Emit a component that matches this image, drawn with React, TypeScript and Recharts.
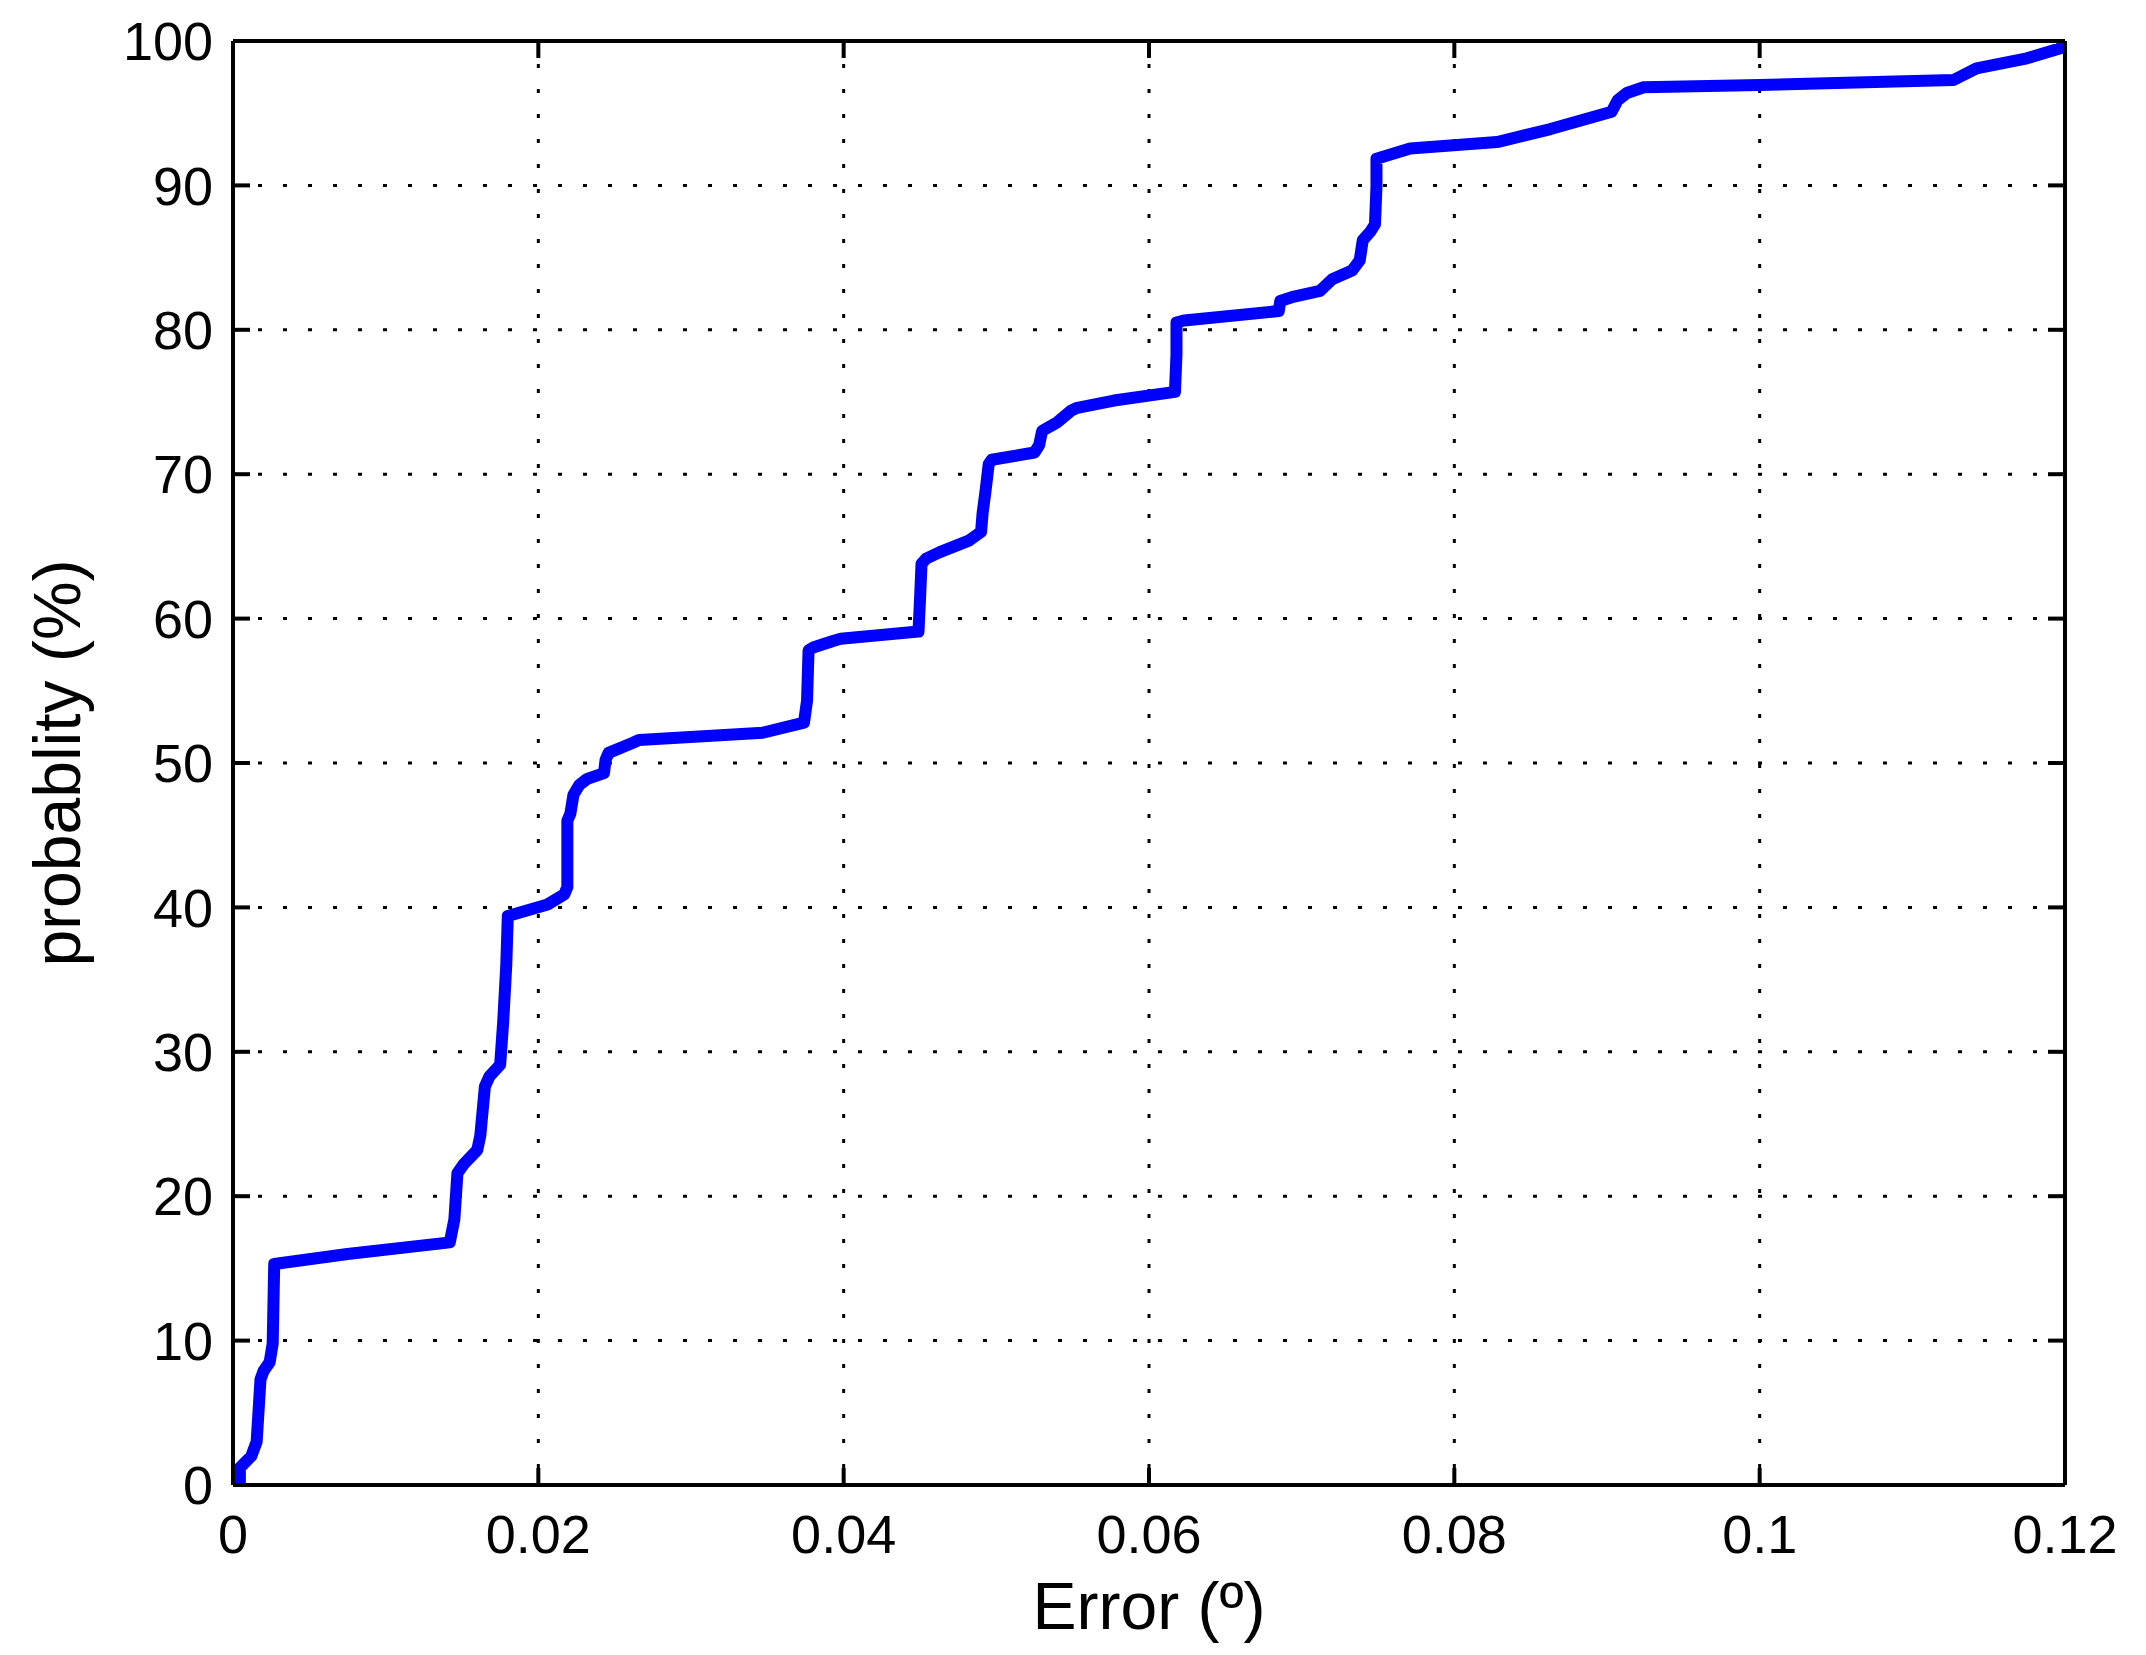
import { LineChart, Line, XAxis, YAxis, CartesianGrid } from "recharts";

// error in degrees vs cumulative probability (%)
const errorValues = [
  0.00045, 0.00045, 0.0012, 0.00155, 0.0018, 0.002, 0.0024, 0.0026, 0.0027, 0.0075,
  0.0142, 0.0145, 0.0147, 0.0151, 0.016, 0.0162, 0.0165, 0.0168, 0.0175, 0.0177,
  0.0179, 0.018, 0.0206, 0.0217, 0.0219, 0.0219, 0.0221, 0.0223, 0.0227, 0.0232,
  0.0243, 0.0244, 0.0246, 0.0262, 0.0266, 0.0347, 0.0374, 0.0376, 0.0377, 0.038,
  0.0393, 0.0398, 0.0449, 0.045, 0.0451, 0.0454, 0.0463, 0.0482, 0.049, 0.0491,
  0.0493, 0.0495, 0.0497, 0.0525, 0.0528, 0.053, 0.054, 0.0549, 0.0553, 0.0577,
  0.0617, 0.0618, 0.0618, 0.0623, 0.0685, 0.0686, 0.0695, 0.0712, 0.072, 0.0733,
  0.0738, 0.074, 0.0745, 0.0748, 0.0749, 0.0749, 0.0771, 0.0828, 0.0863, 0.0903,
  0.0907, 0.0913, 0.0924, 0.1, 0.1127, 0.1142, 0.1175, 0.1197, 0.12,
];

const probabilityValues = [
  0, 1.2, 2.0, 3.0, 7.3, 7.9, 8.5, 9.8, 15.3, 16.0,
  16.8, 18.4, 21.6, 22.2, 23.2, 24.2, 27.6, 28.3, 29.1, 32.1,
  36.0, 39.4, 40.2, 40.9, 41.4, 46.0, 46.5, 47.8, 48.5, 48.9,
  49.3, 50.2, 50.7, 51.4, 51.6, 52.1, 52.8, 54.3, 57.8, 58.0,
  58.45, 58.6, 59.1, 61.3, 63.8, 64.15, 64.6, 65.4, 66.0, 67.3,
  68.9, 70.7, 71.0, 71.5, 72.0, 73.0, 73.6, 74.4, 74.6, 75.1,
  75.7, 78.3, 80.5, 80.65, 81.3, 82.0, 82.3, 82.7, 83.5, 84.1,
  84.8, 86.2, 86.8, 87.3, 89.9, 91.85, 92.55, 93.0, 93.9, 95.1,
  95.9, 96.4, 96.8, 96.95, 97.3, 98.1, 98.8, 99.5, 100,
];

const xTicks = [0, 0.02, 0.04, 0.06, 0.08, 0.1, 0.12];
const yTicks = [0, 10, 20, 30, 40, 50, 60, 70, 80, 90, 100];

const data = errorValues.map((e, i) => ({ error: e, probability: probabilityValues[i] }));

const FONT = '"Liberation Sans", Arial, Helvetica, sans-serif';
const tickStyle = { fill: "#000", fontSize: 54, fontFamily: FONT };
const axisStroke = { stroke: "#000", strokeWidth: 4 };

const XLabel = ({ viewBox }: any) => (
  <text x={viewBox.x + viewBox.width / 2} y={viewBox.y + 144} textAnchor="middle"
    fontSize={66} fontFamily={FONT} fill="#000">
    Error (º)
  </text>
);

const YLabel = ({ viewBox }: any) => {
  const cx = viewBox.x + 72;
  const cy = viewBox.y + viewBox.height / 2;
  return (
    <text x={cx} y={cy} transform={`rotate(-90, ${cx}, ${cy})`} textAnchor="middle"
      fontSize={66} fontFamily={FONT} fill="#000">
      probablity (%)
    </text>
  );
};

export default function App() {
  return (
    <div style={{ width: 2130, height: 1640, background: "#fff" }}>
      <LineChart width={2130} height={1640} data={data} margin={{ top: 3, right: 43, bottom: 0, left: 0 }}>
        <CartesianGrid horizontal vertical={false} stroke="#000" strokeWidth={3} strokeDasharray="4 21" />
        <CartesianGrid horizontal={false} vertical stroke="#000" strokeWidth={3} strokeDasharray="4 21" strokeDashoffset={2} />
        <XAxis dataKey="error" type="number" domain={[0, 0.12]} ticks={xTicks} allowDataOverflow
          height={163} tick={tickStyle} tickFormatter={(v) => String(v)}
          axisLine={axisStroke} tickLine={axisStroke} tickSize={-17} tickMargin={47}
          label={<XLabel />} />
        <XAxis xAxisId="top" orientation="top" dataKey="error" type="number" domain={[0, 0.12]} ticks={xTicks}
          allowDataOverflow height={30} tickFormatter={() => ""} axisLine={axisStroke} tickLine={axisStroke}
          tickSize={-17} />
        <YAxis type="number" domain={[0, 100]} ticks={yTicks} allowDataOverflow width={225}
          tick={tickStyle} axisLine={axisStroke} tickLine={axisStroke} tickSize={-17} tickMargin={37}
          label={<YLabel />} />
        <YAxis yAxisId="right" orientation="right" dataKey="probability" type="number" domain={[0, 100]} ticks={yTicks}
          allowDataOverflow width={30} tickFormatter={() => ""} axisLine={axisStroke} tickLine={axisStroke}
          tickSize={-17} />
        <Line type="linear" dataKey="probability" stroke="#0000ff" strokeWidth={12} dot={false}
          strokeLinejoin="round" isAnimationActive={false} />
      </LineChart>
    </div>
  );
}
